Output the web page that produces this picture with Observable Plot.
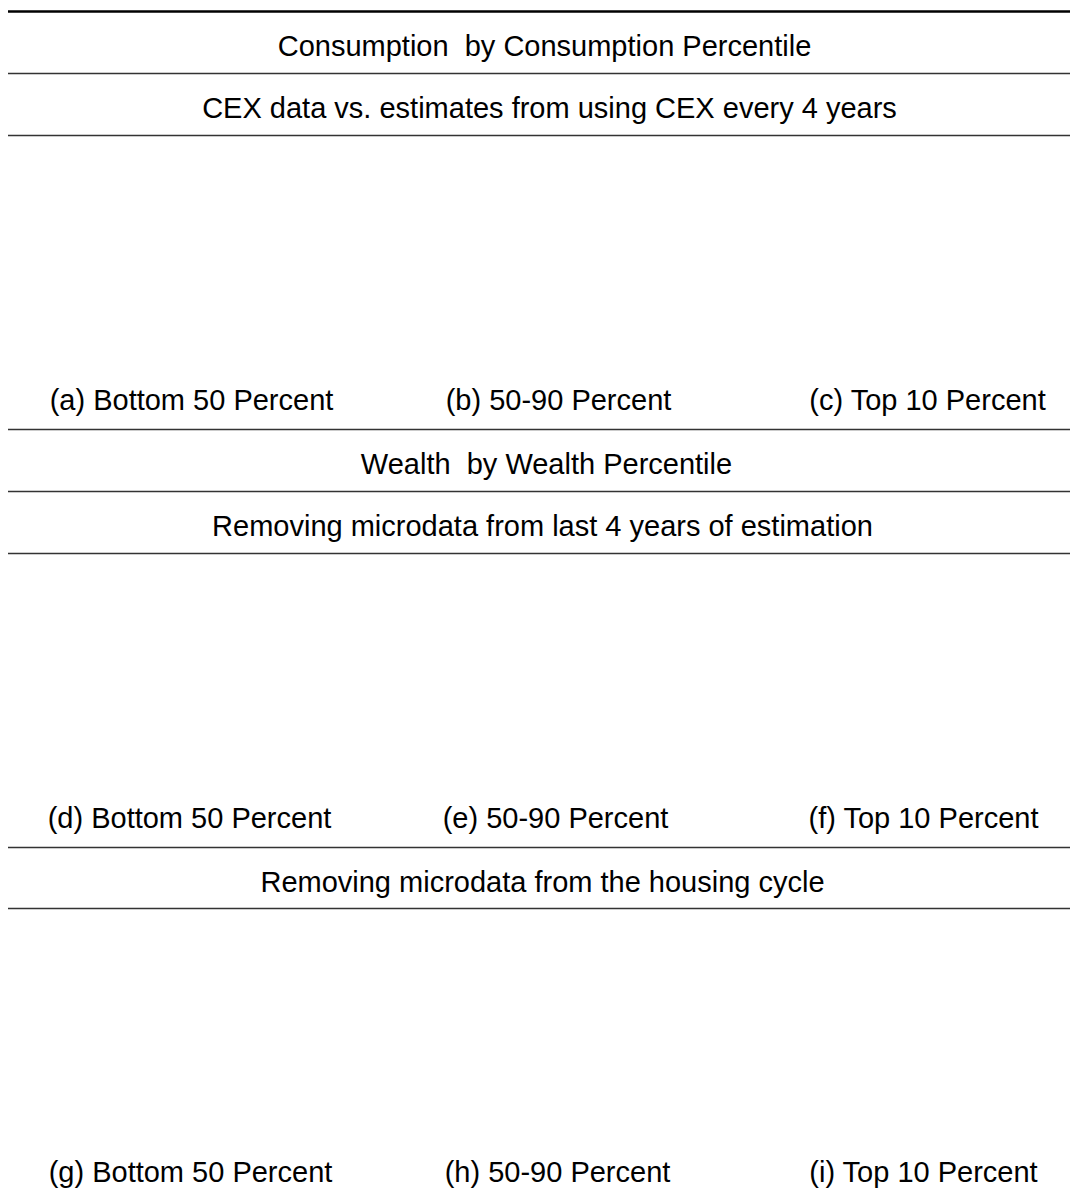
<!DOCTYPE html>
<html><head><meta charset="utf-8">
<script src="https://cdn.jsdelivr.net/npm/d3@7"></script>
<script src="https://cdn.jsdelivr.net/npm/@observablehq/plot@0.6"></script>
<style>
body{margin:0;background:#fff}
#chart svg text{white-space:pre}
</style>
</head><body><div id="chart"></div>
<script>
// ---- content ----
const headings = [
  "Consumption  by Consumption Percentile",
  "CEX data vs. estimates from using CEX every 4 years",
  "Wealth  by Wealth Percentile",
  "Removing microdata from last 4 years of estimation",
  "Removing microdata from the housing cycle"
];
const panelLetters = ["a","b","c","d","e","f","g","h","i"];
const groups = ["Bottom 50 Percent","50-90 Percent","Top 10 Percent"];

// ---- layout (pixel units of the page) ----
const W = 1070, H = 1188;
const headingX = [544, 549, 546, 542, 542];
const headingY = [55, 117, 473, 535, 891];
const thinRuleY = [73, 135, 429, 491, 553, 847, 908];
const thickRuleY = [11];
const captionRowY = [409, 827, 1181];
const captionColX = [[191, 558, 927], [189, 555, 923], [190, 557, 923]];

const headingData = headings.map((t, i) => ({text: t, x: headingX[i], y: headingY[i]}));
const captionData = panelLetters.map((l, i) => {
  const r = Math.floor(i / 3), c = i % 3;
  return {text: `(${l}) ${groups[c]}`, x: captionColX[r][c], y: captionRowY[r]};
});

const chart = Plot.plot({
  width: W, height: H,
  margin: 0,
  x: {domain: [0, W], range: [0, W], axis: null},
  y: {domain: [0, H], range: [0, H], axis: null},
  style: {fontFamily: "'Liberation Sans', Arial, sans-serif", background: "#fff"},
  marks: [
    Plot.ruleY(thickRuleY, {y: d => d, x1: 8, x2: W, stroke: "#000", strokeWidth: 2.5}),
    Plot.ruleY(thinRuleY, {y: d => d, x1: 8, x2: W, stroke: "#333", strokeWidth: 1.4}),
    Plot.text(headingData, {x: "x", y: "y", text: "text", fontSize: 29, fill: "#000", textAnchor: "middle", lineAnchor: "bottom"}),
    Plot.text(captionData, {x: "x", y: "y", text: "text", fontSize: 29, fill: "#000", textAnchor: "middle", lineAnchor: "bottom"})
  ]
});
document.getElementById("chart").appendChild(chart);
</script>
</body></html>
